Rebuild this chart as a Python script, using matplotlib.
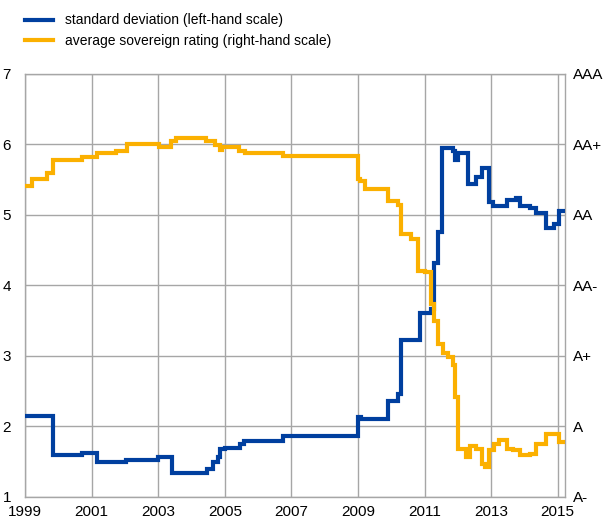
import matplotlib
matplotlib.use("Agg")
import matplotlib.pyplot as plt
import numpy as np

plt.rcParams['font.family'] = ['Liberation Sans', 'DejaVu Sans']

# standard deviation (left-hand scale), step series: change dates and levels
sd_dates = [1999.0, 1999.85, 2000.7, 2001.17, 2001.7, 2002.03, 2003.0, 2003.43,
            2004.47, 2004.65, 2004.8, 2004.86, 2005.0, 2005.45, 2005.58, 2006.75,
            2009.0, 2009.1, 2009.9, 2010.2, 2010.28, 2010.85, 2010.98, 2011.19,
            2011.3, 2011.4, 2011.54, 2011.86, 2011.91, 2012.0, 2012.3, 2012.56,
            2012.74, 2012.94, 2013.06, 2013.48, 2013.76, 2013.86, 2014.16, 2014.36,
            2014.66, 2014.88, 2015.04, 2015.2]
sd_values = [2.15, 1.60, 1.62, 1.49, 1.50, 1.53, 1.57, 1.34,
             1.40, 1.50, 1.56, 1.68, 1.70, 1.75, 1.80, 1.87,
             2.13, 2.11, 2.36, 2.46, 3.23, 3.60, 3.61, 3.66,
             4.31, 4.76, 5.95, 5.90, 5.78, 5.87, 5.44, 5.54,
             5.66, 5.18, 5.12, 5.21, 5.23, 5.12, 5.10, 5.02,
             4.81, 4.87, 5.05, 5.05]

# average sovereign rating (right-hand scale: A-=1 ... AAA=7)
rt_dates = [1999.0, 1999.2, 1999.65, 1999.85, 2000.7, 2001.15, 2001.73, 2002.05,
            2003.03, 2003.4, 2003.55, 2004.45, 2004.7, 2004.86, 2004.93, 2005.43,
            2005.6, 2006.76, 2009.0, 2009.05, 2009.2, 2009.37, 2009.9, 2010.2,
            2010.28, 2010.6, 2010.8, 2011.0, 2011.2, 2011.3, 2011.4, 2011.56,
            2011.71, 2011.86, 2011.91, 2012.0, 2012.26, 2012.36, 2012.56, 2012.74,
            2012.82, 2012.94, 2013.08, 2013.24, 2013.48, 2013.66, 2013.86, 2014.16,
            2014.36, 2014.66, 2015.04, 2015.2]
rt_values = [5.41, 5.50, 5.59, 5.77, 5.82, 5.87, 5.90, 6.00,
             5.96, 6.05, 6.09, 6.04, 5.99, 5.92, 5.96, 5.90,
             5.87, 5.83, 5.51, 5.48, 5.37, 5.37, 5.19, 5.13,
             4.73, 4.66, 4.20, 4.19, 3.74, 3.50, 3.17, 3.04,
             2.98, 2.87, 2.42, 1.68, 1.56, 1.72, 1.68, 1.47,
             1.42, 1.66, 1.75, 1.81, 1.68, 1.66, 1.59, 1.61,
             1.75, 1.89, 1.78, 1.78]

year_ticks = [1999, 2001, 2003, 2005, 2007, 2009, 2011, 2013, 2015]
left_ticks = [1, 2, 3, 4, 5, 6, 7]
rating_labels = ['A-', 'A', 'A+', 'AA-', 'AA', 'AA+', 'AAA']

blue = '#003f9f'
orange = '#fbb000'
grid_col = '#a6a6a6'

fig = plt.figure(figsize=(6.08, 5.22), dpi=100)
ax = fig.add_axes([25/608, 1 - 497/522, 540/608, (497 - 73.5)/522])

ax.step(sd_dates, sd_values, where='post', color=blue, lw=3, solid_joinstyle='miter',
        label='standard deviation (left-hand scale)', zorder=3)
ax.step(rt_dates, rt_values, where='post', color=orange, lw=3, solid_joinstyle='miter',
        label='average sovereign rating (right-hand scale)', zorder=3)

ax.set_xlim(1999, 2015.22)
ax.set_ylim(1, 7)
ax.set_xticks(year_ticks)
ax.set_yticks(left_ticks)
ax.grid(True, color=grid_col, lw=1)
ax.tick_params(length=0, labelsize=11, pad=6)
ax.tick_params(axis='y', pad=10)
for s in ax.spines.values():
    s.set_color(grid_col)
    s.set_linewidth(1)

ax2 = ax.twinx()
ax2.set_ylim(1, 7)
ax2.set_yticks(left_ticks)
ax2.set_yticklabels(rating_labels)
ax2.tick_params(length=0, labelsize=11, pad=6)
for s in ax2.spines.values():
    s.set_visible(False)

ax.legend(loc='upper left', bbox_to_anchor=(-0.01, 1.155), frameon=False, fontsize=10,
          handlelength=2.0, handletextpad=0.9, labelspacing=0.45, borderaxespad=0)

fig.savefig('out.png', dpi=100)
